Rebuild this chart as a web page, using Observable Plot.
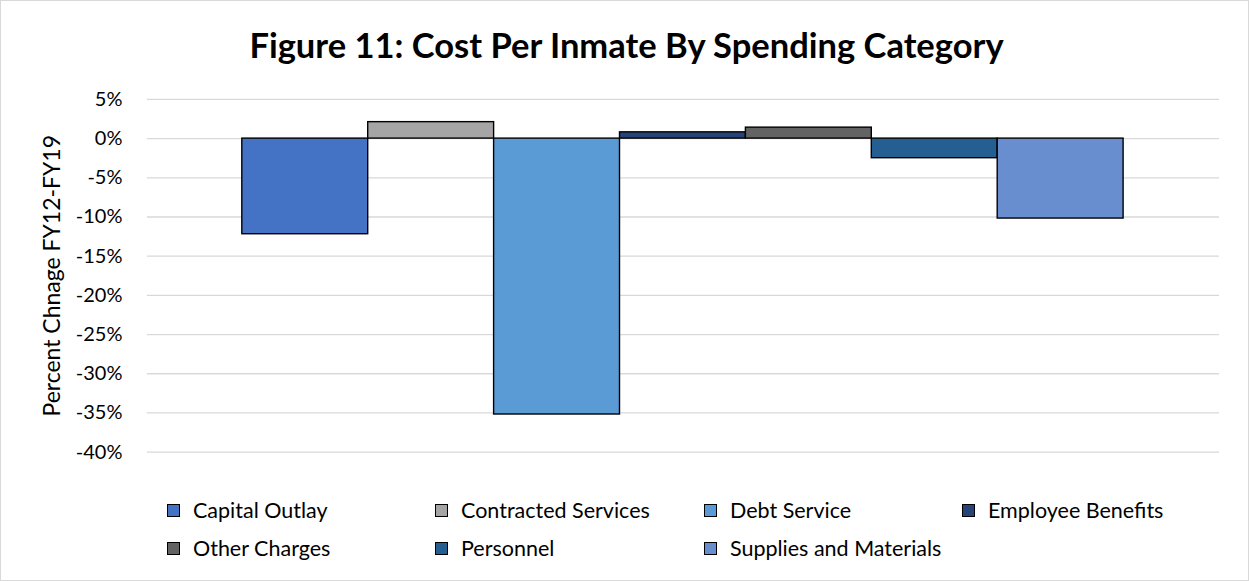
<!DOCTYPE html>
<html>
<head>
<meta charset="utf-8">
<script src="https://cdn.jsdelivr.net/npm/d3@7"></script>
<script src="https://cdn.jsdelivr.net/npm/@observablehq/plot@0.6"></script>
<style>
  html, body { margin: 0; padding: 0; background: #fff; }
  #chart { position: relative; width: 1247px; height: 579px; border: 1px solid #d9d9d9; overflow: hidden; font-family: Lato, "Open Sans", sans-serif; }
  #title { position: absolute; top: 24px; left: 0; width: 1251px; text-align: center; font-weight: bold; font-size: 34.5px; line-height: 40px; color: #000; }
  #plot { position: absolute; top: -1px; left: -1px; }
  #legend { position: absolute; left: -1px; top: -1px; width: 1249px; height: 581px; pointer-events: none; }
  .item { position: absolute; display: flex; align-items: center; font-size: 21.5px; line-height: 24px; color: #000; white-space: nowrap; }
  .sw { width: 13px; height: 13px; border: 1.3px solid #000; box-sizing: border-box; margin-right: 13px; }
</style>
</head>
<body>
<div id="chart">
  <div id="title">Figure 11: Cost Per Inmate By Spending Category</div>
  <div id="plot"></div>
  <div id="legend"></div>
</div>
<script>
const categories = ["Capital Outlay", "Contracted Services", "Debt Service", "Employee Benefits", "Other Charges", "Personnel", "Supplies and Materials"];
const values = [-12.2, 2.1, -35.2, 0.8, 1.4, -2.5, -10.2];
const colors = ["#4472C4", "#A5A5A5", "#5B9BD5", "#264478", "#636363", "#255E91", "#698ED0"];
const yTicks = [5, 0, -5, -10, -15, -20, -25, -30, -35, -40];
const yLabel = "Percent Chnage FY12-FY19";

const data = categories.map((c, i) => ({category: c, value: values[i]}));

const plot = Plot.plot({
  width: 1249,
  height: 480,
  marginLeft: 147,
  marginRight: 29,
  marginTop: 99,
  marginBottom: 28,
  style: {fontFamily: "Lato, 'Open Sans', sans-serif", background: "transparent"},
  x: {type: "band", domain: categories, range: [240, 1125], padding: 0, axis: null},
  y: {domain: [-40, 5], range: [452, 99], axis: null},
  color: {domain: categories, range: colors},
  marks: [
    Plot.ruleY(yTicks, {stroke: "#d9d9d9", strokeWidth: 1.3}),
    Plot.axisY({ticks: yTicks, tickSize: 0, tickPadding: 25, tickFormat: d => d + "%", fontSize: 20, label: null, color: "#000"}),
    Plot.text([yLabel], {frameAnchor: "left", textAnchor: "middle", rotate: -90, dx: -95, fontSize: 23, text: d => d, fill: "#000"}),
    Plot.barY(data, {x: "category", y: "value", fill: "category", stroke: "#000", strokeWidth: 1.4})
  ]
});
document.getElementById("plot").appendChild(plot);

const legendPos = [
  [167, 510], [435, 510], [704, 510], [962, 510],
  [167, 548], [435, 548], [704, 548]
];
const legend = document.getElementById("legend");
categories.forEach((c, i) => {
  const item = document.createElement("div");
  item.className = "item";
  item.style.left = legendPos[i][0] + "px";
  item.style.top = (legendPos[i][1] - 12) + "px";
  const sw = document.createElement("div");
  sw.className = "sw";
  sw.style.background = colors[i];
  const label = document.createElement("span");
  label.textContent = c;
  item.appendChild(sw);
  item.appendChild(label);
  legend.appendChild(item);
});
</script>
</body>
</html>
